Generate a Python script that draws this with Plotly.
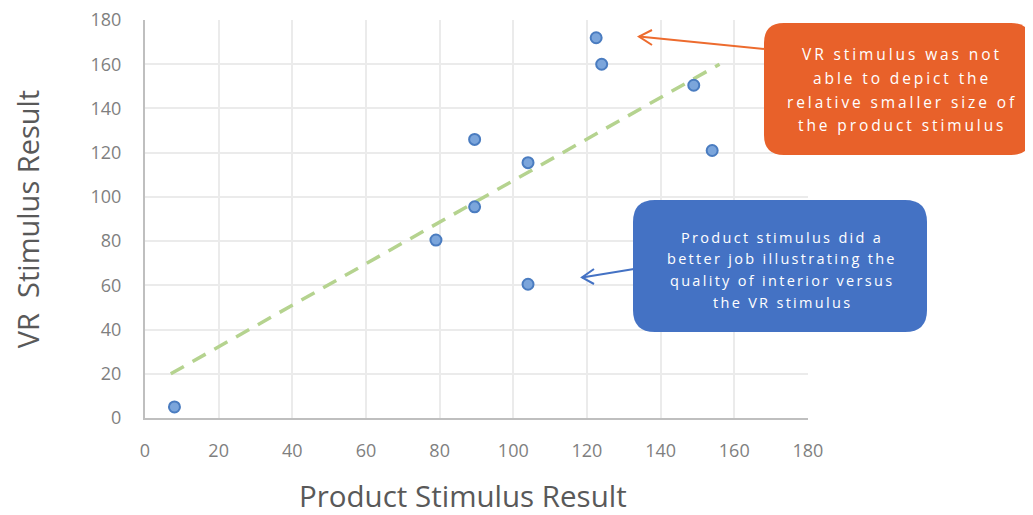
import plotly.graph_objects as go

# ---- data ----
product_result = [8, 79, 89.5, 89.5, 104, 104, 122.5, 124, 149, 154]
vr_result = [5, 80.5, 95.5, 126, 115.5, 60.5, 172, 160, 150.5, 121]
trend_x = [7, 156]
trend_y = [20, 160]
tick_vals = [0, 20, 40, 60, 80, 100, 120, 140, 160, 180]
orange_lines = ["VR stimulus was not", "able to depict the", "relative smaller size of", "the product stimulus"]
blue_lines = ["Product stimulus did a", "better job illustrating the", "quality of interior versus", "the VR stimulus"]

OFF = 8  # browser body margin
W, H = 1033, 515
L, R, T, B = 145, 808, 20, 418  # plot area in screen pixels


def px(xp):
    return (xp - L) / (R - L)


def py(yp):
    return (B - yp) / (B - T)


def rounded_rect(x0, y0, x1, y1, r):
    def P(x, y):
        return f"{px(x):.5f},{py(y):.5f}"
    return (f"M {P(x0 + r, y0)} L {P(x1 - r, y0)} Q {P(x1, y0)} {P(x1, y0 + r)} "
            f"L {P(x1, y1 - r)} Q {P(x1, y1)} {P(x1 - r, y1)} "
            f"L {P(x0 + r, y1)} Q {P(x0, y1)} {P(x0, y1 - r)} "
            f"L {P(x0, y0 + r)} Q {P(x0, y0)} {P(x0 + r, y0)} Z")


fig = go.Figure()
fig.add_trace(go.Scatter(
    x=trend_x, y=trend_y, mode="lines",
    line=dict(color="#B5D38F", width=3.5, dash="15px,10px"),
    hoverinfo="skip", showlegend=False))
fig.add_trace(go.Scatter(
    x=product_result, y=vr_result, mode="markers",
    marker=dict(size=11, color="#7BA5DB", line=dict(color="#4A7CC0", width=2)),
    showlegend=False))

title_gray = "#595959"
tick_gray = "#7F7F7F"
axis_common = dict(
    tickvals=tick_vals, showgrid=True, gridcolor="#EBEBEB", gridwidth=1.5,
    zeroline=False, showline=True, linecolor="#BFBFBF", linewidth=2,
    tickfont=dict(family="Open Sans", size=18, color=tick_gray), ticks="", fixedrange=True,
    ticklabeloverflow="allow",
)
fig.update_xaxes(**axis_common, range=[0, 180.02], ticklabelstandoff=15)
fig.update_yaxes(**axis_common, range=[0, 180.02], ticklabelstandoff=18,
                 title=dict(text="VR\u00a0\u00a0Stimulus Result", font=dict(family="Open Sans", size=29, color=title_gray), standoff=50))

shapes = []
shapes.append(dict(type="path", xref="paper", yref="paper", path=rounded_rect(764, 23, 1031, 155, 20),
                   fillcolor="#E8612A", line=dict(width=0), layer="above"))
shapes.append(dict(type="path", xref="paper", yref="paper", path=rounded_rect(633, 200, 927, 332, 22),
                   fillcolor="#4472C4", line=dict(width=0), layer="above"))
shapes.append(dict(type="line", xref="paper", yref="paper", x0=px(639), y0=py(36.5), x1=px(765), y1=py(49),
                   line=dict(color="#ED6B2E", width=2)))
shapes.append(dict(type="path", xref="paper", yref="paper",
                   path=f"M {px(652)},{py(30)} L {px(639)},{py(36.5)} L {px(652)},{py(45)}",
                   line=dict(color="#ED6B2E", width=2)))
shapes.append(dict(type="line", xref="paper", yref="paper", x0=px(582), y0=py(277.5), x1=px(634), y1=py(269),
                   line=dict(color="#4472C4", width=2)))
shapes.append(dict(type="path", xref="paper", yref="paper",
                   path=f"M {px(594)},{py(269)} L {px(582)},{py(277.5)} L {px(594)},{py(284)}",
                   line=dict(color="#4472C4", width=2)))

annotations = []
for i, t in enumerate(orange_lines):
    annotations.append(dict(text=f'<span style="letter-spacing:2.9px">{t}</span>', xref="paper", yref="paper",
                            x=px(902), y=py(54 + i * 23.8),
                            showarrow=False, xanchor="center", yanchor="middle",
                            font=dict(family="Open Sans", size=15.5, color="white")))
for i, t in enumerate(blue_lines):
    annotations.append(dict(text=f'<span style="letter-spacing:2.3px">{t}</span>', xref="paper", yref="paper",
                            x=px(782), y=py(237 + i * 21.8),
                            showarrow=False, xanchor="center", yanchor="middle",
                            font=dict(family="Open Sans", size=14.5, color="white")))
# x axis title placed as annotation (offset from centre like the reference)
annotations.append(dict(text="Product Stimulus Result", xref="paper", yref="paper",
                        x=px(463), y=py(495), showarrow=False, xanchor="center", yanchor="middle",
                        font=dict(family="Open Sans", size=29.5, color=title_gray)))

fig.update_layout(
    width=W - OFF, height=H - OFF,
    margin=dict(l=L - OFF, r=W - R, t=T - OFF, b=H - B, autoexpand=False),
    paper_bgcolor="white", plot_bgcolor="white",
    shapes=shapes, annotations=annotations, showlegend=False,
)
fig.write_html("out.html")
